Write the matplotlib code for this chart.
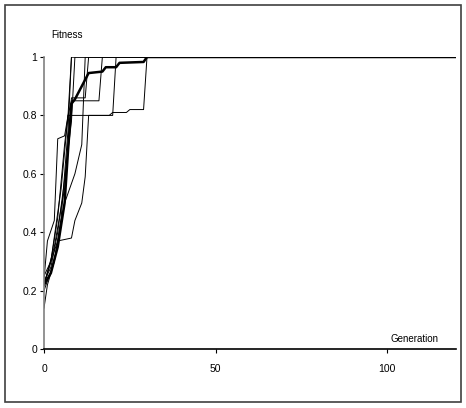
import matplotlib
matplotlib.use("Agg")
import matplotlib.pyplot as plt
from matplotlib.patches import Rectangle

plt.rcParams['font.family'] = ['Liberation Sans', 'DejaVu Sans']

# Thin lines: individual runs (generation, fitness)
run1_x = [0, 2, 4, 6, 7, 8, 120]
run1_y = [0.22, 0.30, 0.45, 0.70, 0.80, 1.00, 1.00]
run2_x = [0, 1, 3, 4, 6, 7, 19, 20, 24, 25, 29, 30, 120]
run2_y = [0.24, 0.37, 0.44, 0.72, 0.73, 0.80, 0.80, 0.81, 0.81, 0.82, 0.82, 1.00, 1.00]
run3_x = [0, 2, 5, 7, 8, 16, 17, 120]
run3_y = [0.22, 0.30, 0.55, 0.80, 0.85, 0.85, 1.00, 1.00]
run4_x = [0, 1, 3, 5, 7, 8, 120]
run4_y = [0.14, 0.22, 0.30, 0.45, 0.75, 1.00, 1.00]
run5_x = [0, 2, 4, 8, 9, 11, 12, 13, 20, 21, 120]
run5_y = [0.25, 0.30, 0.37, 0.38, 0.44, 0.50, 0.59, 0.80, 0.80, 1.00, 1.00]
run6_x = [0, 3, 6, 8, 12, 13, 120]
run6_y = [0.22, 0.35, 0.55, 0.86, 0.86, 1.00, 1.00]
run7_x = [0, 3, 6, 9, 11, 12, 120]
run7_y = [0.20, 0.30, 0.50, 0.60, 0.70, 1.00, 1.00]
run8_x = [0, 2, 4, 6, 8, 9, 120]
run8_y = [0.23, 0.28, 0.40, 0.58, 0.78, 1.00, 1.00]
runs = [(run1_x, run1_y), (run2_x, run2_y), (run3_x, run3_y), (run4_x, run4_y),
        (run5_x, run5_y), (run6_x, run6_y), (run7_x, run7_y), (run8_x, run8_y)]

# Thick line: average
avg_x = [0, 2, 4, 6, 7, 8, 9, 13, 17, 18, 21, 22, 29, 30, 120]
avg_y = [0.22, 0.26, 0.35, 0.50, 0.68, 0.84, 0.855, 0.945, 0.95, 0.965, 0.965, 0.98, 0.983, 1.00, 1.00]

x_ticks = [0, 50, 100]
x_labels = ["0", "50", "100"]
y_ticks = [0, 0.2, 0.4, 0.6, 0.8, 1]
y_labels = ["0", "0.2", "0.4", "0.6", "0.8", "1"]

fig = plt.figure(figsize=(4.66, 4.08), dpi=100)
fig.patch.set_facecolor('white')
fig.patches.append(Rectangle((5/466, 6/408), 456/466, 397/408, transform=fig.transFigure,
                             fill=False, edgecolor='#404040', linewidth=1.2))
ax = fig.add_axes([44/466, 59/408, 412/466, 292/408])

for xs, ys in runs:
    ax.plot(xs, ys, color='black', linewidth=0.7)
ax.plot(avg_x, avg_y, color='black', linewidth=1.8)

ax.set_xlim(0, 120)
ax.set_ylim(0, 1)
for s in ['top', 'right']:
    ax.spines[s].set_visible(False)
ax.spines['left'].set_color('#808080')
ax.spines['left'].set_linewidth(1.2)
ax.spines['bottom'].set_color('black')
ax.spines['bottom'].set_linewidth(1.2)
ax.set_xticks(x_ticks)
ax.set_xticklabels(x_labels, fontsize=7.5)
ax.set_yticks(y_ticks)
ax.set_yticklabels(y_labels, fontsize=7.5)
ax.tick_params(axis='x', length=3, width=0.8, pad=8, colors='black')
ax.tick_params(axis='y', length=3, width=0.8, pad=2, colors='black')

ax.text(2, 1.075, "Fitness", fontsize=7, ha='left', va='center')
ax.text(108, 0.035, "Generation", fontsize=7, ha='center', va='center')

fig.savefig("out.png", dpi=100)
